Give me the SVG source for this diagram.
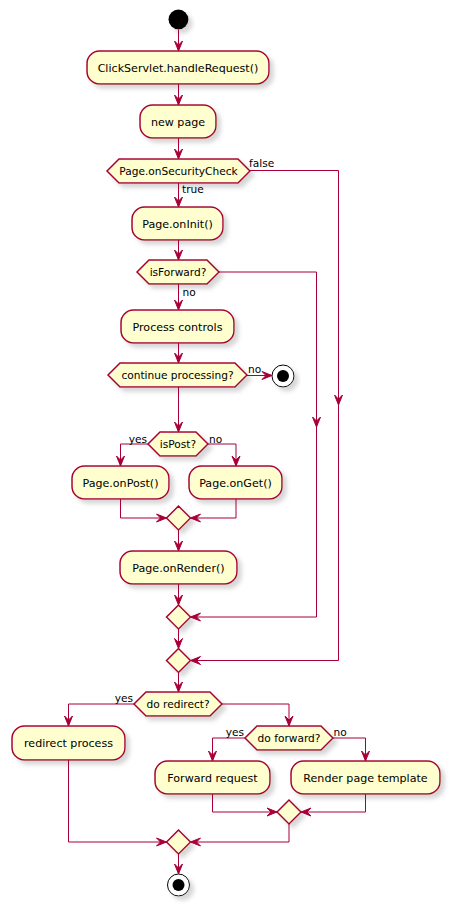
<svg xmlns="http://www.w3.org/2000/svg" width="456" height="912" viewBox="0 0 456 912">
<defs>
<filter id="sh" x="-20%" y="-20%" width="150%" height="160%">
<feGaussianBlur in="SourceAlpha" stdDeviation="2" result="b"/>
<feOffset in="b" dx="4" dy="4" result="o"/>
<feColorMatrix in="o" type="matrix" values="0 0 0 0 0.5  0 0 0 0 0.5  0 0 0 0 0.5  0 0 0 0.6 0" result="c"/>
<feMerge><feMergeNode in="c"/><feMergeNode in="SourceGraphic"/></feMerge>
</filter>
<marker id="ar" markerUnits="userSpaceOnUse" markerWidth="11" markerHeight="9" refX="10" refY="4" orient="auto" overflow="visible">
<path d="M0,0 L10,4 L0,8 L4,4 Z" fill="#A80036" stroke="#A80036" stroke-width="1"/>
</marker>
</defs>
<style>
.act rect{fill:#FEFECE;stroke:#A80036;stroke-width:1.5;filter:url(#sh)}
.dec polygon{fill:#FEFECE;stroke:#A80036;stroke-width:1.5;filter:url(#sh)}
.t{font-family:"DejaVu Sans",sans-serif;font-size:11.1px;fill:#000;text-anchor:middle}
.d{font-family:"DejaVu Sans",sans-serif;font-size:10.6px;fill:#000;text-anchor:middle}
.l{font-family:"DejaVu Sans",sans-serif;font-size:10.6px;fill:#000}
#edges path{fill:none;stroke:#A80036;stroke-width:1;marker-end:url(#ar)}
</style>

<g id="start"><circle cx="178.5" cy="19.5" r="10" fill="#000" filter="url(#sh)"/></g>

<g id="n1" class="act"><rect x="87" y="51" width="182" height="33" rx="12.5"/><text class="t" x="178" y="72">ClickServlet.handleRequest()</text></g>
<g id="n2" class="act"><rect x="140" y="105" width="76" height="33" rx="12.5"/><text class="t" x="178" y="126">new page</text></g>
<g id="d1" class="dec"><polygon points="107,171 119,159 238,159 250,171 238,183 119,183"/><text class="d" x="178.5" y="175">Page.onSecurityCheck</text></g>
<g id="n3" class="act"><rect x="132" y="207" width="91" height="33" rx="12.5"/><text class="t" x="177.5" y="228">Page.onInit()</text></g>
<g id="d2" class="dec"><polygon points="137,272 149,260 207,260 219,272 207,284 149,284"/><text class="d" x="178" y="276">isForward?</text></g>
<g id="n4" class="act"><rect x="121" y="310" width="113" height="33" rx="12.5"/><text class="t" x="177.5" y="331">Process controls</text></g>
<g id="d3" class="dec"><polygon points="108,375 120,363 235,363 247,375 235,387 120,387"/><text class="d" x="177.5" y="379">continue processing?</text></g>
<g id="stop1"><circle cx="283" cy="376" r="11" fill="#fff" stroke="#000" stroke-width="1" filter="url(#sh)"/><circle cx="283" cy="376" r="6" fill="#000"/></g>
<g id="d4" class="dec"><polygon points="148,444 160,432 196,432 208,444 196,456 160,456"/><text class="d" x="178" y="448">isPost?</text></g>
<g id="n5" class="act"><rect x="72" y="466" width="97" height="33" rx="12.5"/><text class="t" x="120.5" y="487">Page.onPost()</text></g>
<g id="n6" class="act"><rect x="189" y="466" width="93" height="33" rx="12.5"/><text class="t" x="235.5" y="487">Page.onGet()</text></g>
<g id="m1" class="dec"><polygon points="166.5,518 178.5,506 190.5,518 178.5,530"/></g>
<g id="n7" class="act"><rect x="120" y="551" width="117" height="33" rx="12.5"/><text class="t" x="178.5" y="572">Page.onRender()</text></g>
<g id="m2" class="dec"><polygon points="166.5,617 178.5,605 190.5,617 178.5,629"/></g>
<g id="m3" class="dec"><polygon points="166.5,660.5 178.5,648.5 190.5,660.5 178.5,672.5"/></g>
<g id="d5" class="dec"><polygon points="134,704 146,692 210,692 222,704 210,716 146,716"/><text class="d" x="178" y="708">do redirect?</text></g>
<g id="n8" class="act"><rect x="12" y="726" width="113" height="34" rx="12.5"/><text class="t" x="68.5" y="747">redirect process</text></g>
<g id="d6" class="dec"><polygon points="245,738 257,726 321,726 333,738 321,750 257,750"/><text class="d" x="289" y="742">do forward?</text></g>
<g id="n9" class="act"><rect x="155" y="761" width="115" height="33" rx="12.5"/><text class="t" x="212.5" y="782">Forward request</text></g>
<g id="n10" class="act"><rect x="291" y="761" width="149" height="33" rx="12.5"/><text class="t" x="365.5" y="782">Render page template</text></g>
<g id="m4" class="dec"><polygon points="277,812 289,800 301,812 289,824"/></g>
<g id="m5" class="dec"><polygon points="166.5,842 178.5,830 190.5,842 178.5,854"/></g>
<g id="end"><circle cx="178.5" cy="885" r="11" fill="#fff" stroke="#000" stroke-width="1" filter="url(#sh)"/><circle cx="178.5" cy="885" r="6" fill="#000"/></g>

<g id="edges">
<path d="M178.5,29.5 L178.5,51"/>
<path d="M178.5,84 L178.5,105"/>
<path d="M178.5,138 L178.5,159"/>
<path d="M178.5,183 L178.5,207"/>
<path d="M178.5,240 L178.5,260"/>
<path d="M178.5,284 L178.5,310"/>
<path d="M178.5,343 L178.5,363"/>
<path d="M247,375.5 L272,375.5"/>
<path d="M178.5,387 L178.5,432"/>
<path d="M148,444 L120.5,444 L120.5,466"/>
<path d="M208,444 L236,444 L236,466"/>
<path d="M120.5,499 L120.5,518 L166.5,518"/>
<path d="M236,499 L236,518 L190.5,518"/>
<path d="M178.5,530 L178.5,551"/>
<path d="M178.5,584 L178.5,605"/>
<path d="M219,272 L316.5,272 L316.5,427"/>
<path d="M316.5,425 L316.5,617 L190.5,617"/>
<path d="M178.5,629 L178.5,648.5"/>
<path d="M250,170.5 L338.5,170.5 L338.5,405"/>
<path d="M338.5,403 L338.5,660.5 L190.5,660.5"/>
<path d="M178.5,672.5 L178.5,692"/>
<path d="M134,704 L68.5,704 L68.5,726"/>
<path d="M222,704 L289,704 L289,726"/>
<path d="M245,738 L212.5,738 L212.5,761"/>
<path d="M333,738 L365.5,738 L365.5,761"/>
<path d="M212.5,794 L212.5,812 L277,812"/>
<path d="M365.5,794 L365.5,812 L301,812"/>
<path d="M68.5,760 L68.5,842 L166.5,842"/>
<path d="M289,824 L289,842 L190.5,842"/>
<path d="M178.5,854 L178.5,874"/>
</g>

<g id="labels">
<text class="l" x="249" y="167">false</text>
<text class="l" x="182" y="193">true</text>
<text class="l" x="182.5" y="296">no</text>
<text class="l" x="248" y="373">no</text>
<text class="l" x="147" y="443" text-anchor="end">yes</text>
<text class="l" x="209" y="443">no</text>
<text class="l" x="133" y="702" text-anchor="end">yes</text>
<text class="l" x="244" y="736" text-anchor="end">yes</text>
<text class="l" x="333.5" y="736">no</text>
</g>
</svg>
